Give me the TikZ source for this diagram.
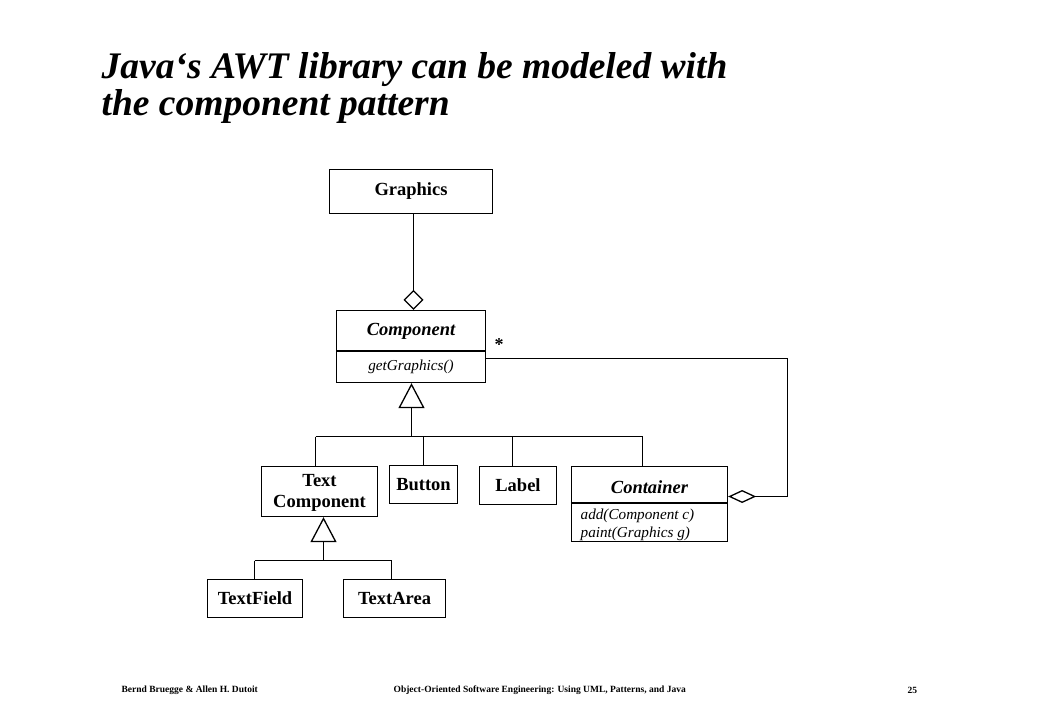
\documentclass[tikz,border=0pt]{standalone}
\usepackage{fontspec}
\setmainfont{Liberation Serif}
\usetikzlibrary{arrows.meta}
\begin{document}
\begin{tikzpicture}[x=1pt,y=-1pt,line width=1.3pt,
  box/.style={draw,line width=1.3pt,inner sep=0pt,anchor=center},
  lbl/.style={font=\fontsize{18.5}{21}\selectfont\bfseries,align=center},
  ilbl/.style={font=\fontsize{18.5}{21}\selectfont\bfseries\itshape,inner sep=0pt},
  op/.style={font=\fontsize{15.2}{18}\selectfont\itshape,inner sep=0pt},
  foot/.style={font=\fontsize{9.5}{11}\selectfont\bfseries,inner sep=0pt,anchor=west},
  ttl/.style={font=\fontsize{37.5}{40}\selectfont\bfseries\itshape,inner sep=0pt,anchor=base west},
  gen/.style={-{Triangle[open,length=25pt,width=26pt]}}
]
\useasboundingbox[fill=white] (0,0) rectangle (1039,720);

% title
\node[ttl] (t1) at (101,78) {Java‘s AWT library can be modeled with};
\node[ttl] (t2) at (101,115) {the component pattern};

% classes
\node[box,lbl,minimum width=163pt,minimum height=44pt] (graphics) at (411,191.5) {Graphics};

\node[box,minimum width=149pt,minimum height=72pt] (comp) at (411,346.5) {};
\node[ilbl] (compname) at (411,331) {Component};
\node[op] (compop) at (411,367) {getGraphics()};
\draw ([yshift=-41pt]comp.north west) -- ([yshift=-41pt]comp.north east);

\node[box,minimum width=116pt,minimum height=50pt] (textcomp) at (319.5,491.5) {};
\node[lbl,inner sep=0pt] (textcomplbl) at (319.5,493) {Text\\Component};
\node[box,lbl,minimum width=68pt,minimum height=38pt] (button) at (423.5,484.5) {Button};
\node[box,lbl,minimum width=77pt,minimum height=38pt] (label) at (518,485.5) {Label};

\node[box,minimum width=156pt,minimum height=75pt] (container) at (649.5,504) {};
\node[ilbl] (contname) at (649.5,486.7) {Container};
\node[op,anchor=west,align=left] (contops) at (580,525) {add(Component c)\\paint(Graphics g)};
\draw ([yshift=-37pt]container.north west) -- ([yshift=-37pt]container.north east);

\node[box,lbl,minimum width=95pt,minimum height=38pt] (textfield) at (255,598.5) {TextField};
\node[box,lbl,minimum width=102pt,minimum height=38pt] (textarea) at (394.5,598.5) {TextArea};

% aggregation Graphics - Component
\draw[-{Diamond[open,length=20pt,width=20pt]}] ([xshift=2.5pt]graphics.south) -- ([xshift=2.5pt]comp.north);

% generalization Component
\coordinate (g1) at (411.5,436.5);
\coordinate (b1l) at (315.5,436.5);
\coordinate (b1b) at (423.5,436.5);
\coordinate (b1lab) at (512.5,436.5);
\coordinate (b1r) at (642.5,436.5);
\draw[gen] (g1) -- (g1 |- comp.south);
\draw (b1l) -- (b1r);
\draw (b1l) -- (b1l |- textcomp.north);
\draw (b1b) -- (button.north);
\draw (b1lab) -- (b1lab |- label.north);
\draw (b1r) -- (b1r |- container.north);

% generalization Text Component
\coordinate (g2) at (323.5,560.5);
\coordinate (b2l) at (254.5,560.5);
\coordinate (b2r) at (391.5,560.5);
\draw[gen] (g2) -- (g2 |- textcomp.south);
\draw (b2l) -- (b2r);
\draw (b2l) -- (b2l |- textfield.north);
\draw (b2r) -- (b2r |- textarea.north);

% association Container - Component
\coordinate (a1) at (787.5,358.5);
\coordinate (a2) at (787.5,496.5);
\draw[-{Diamond[open,length=28pt,width=13pt]}] ([yshift=-12pt]comp.east) -- (a1) -- (a2) -- ([yshift=7.5pt]container.east);
\node[font=\fontsize{18}{20}\selectfont\bfseries,inner sep=0pt] (mult) at (499,345) {*};

% footer
\node[foot] (fl) at (121,690) {Bernd Bruegge \& Allen H. Dutoit};
\node[foot] (fm) at (393,690) {Object-Oriented Software Engineering: Using UML, Patterns, and Java};
\node[foot] (fr) at (907,690) {25};
\end{tikzpicture}
\end{document}
